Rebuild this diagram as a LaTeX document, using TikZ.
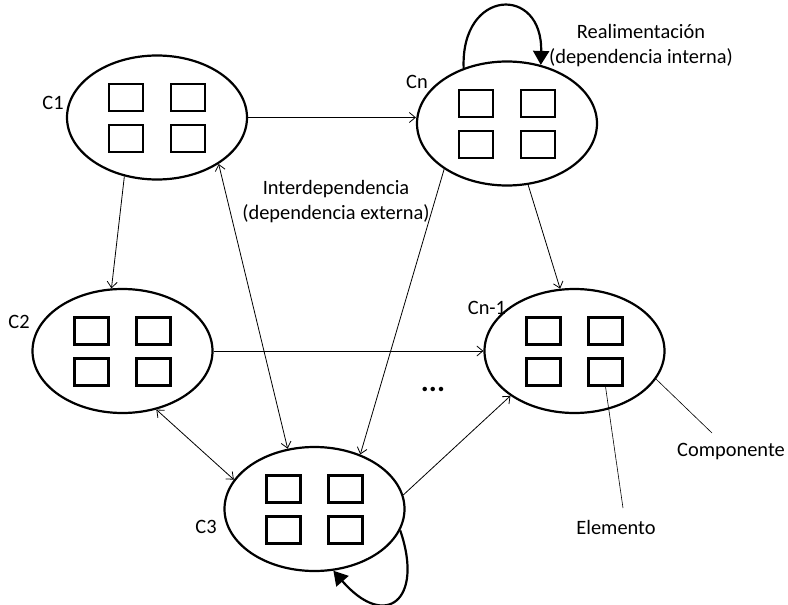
\documentclass[tikz,border=0pt]{standalone}
\usepackage{fontspec}
\setmainfont{Carlito}
\usetikzlibrary{shapes.geometric,arrows.meta}
\begin{document}
\begin{tikzpicture}[x=1pt,y=-1pt,
 comp/.style={ellipse,draw,line width=2.2pt,minimum width=180pt,minimum height=124pt,inner sep=0pt},
 elem/.style={rectangle,draw,line width=2.2pt,minimum width=34pt,minimum height=27pt,inner sep=0pt},
 lbl/.style={font=\fontsize{20.4}{25}\selectfont,inner sep=0pt,align=center},
 dep/.style={line width=0.8pt,-{Straight Barb[length=6pt,width=10pt]}},
 bidep/.style={line width=0.8pt,{Straight Barb[length=6pt,width=10pt]}-{Straight Barb[length=6pt,width=10pt]}},
 fb/.style={line width=2.2pt,-{Triangle[length=14pt,width=16pt]}},
 note/.style={line width=0.6pt}]
\useasboundingbox (0,0) rectangle (788,605);
% components
\node[comp] (c1) at (157,117.5) {};
\node[comp] (cn) at (507,123.5) {};
\node[comp] (c2) at (122.5,351) {};
\node[comp] (c3) at (314.5,509) {};
\node[comp] (cn1) at (574.5,351) {};
% elements
\foreach \c in {c1,cn,c2,c3,cn1} {
  \foreach \dx/\dy/\s in {-31/-20/a,31/-20/b,-31/21/c,31/21/d}
    \node[elem] (\c\s) at ([shift={(\dx,\dy)}]\c.center) {};
}
% labels
\node[lbl] (lc1) at (53,103) {C1};
\node[lbl] (lcn) at (417,82) {Cn};
\node[lbl] (lc2) at (19,322) {C2};
\node[lbl] (lcn1) at (487,308) {Cn-1};
\node[lbl] (lc3) at (206,527) {C3};
% feedback loops
\draw[fb] (cn.128) .. controls +(-3,-80) and +(2,-80) .. (cn.60);
\draw[fb] (c3.-14) .. controls +(24,70) and +(52,60) .. (c3.-73);
% dependencies
\draw[dep] (c1.east) -- (c1.east -| cn.west);
\draw[dep] (c1.241.5) -- (c2.100);
\draw[bidep] (c1.-37) -- (c3.114);
\draw[dep] (cn.216) -- (c3.50);
\draw[dep] (cn.-71) -- (cn1.103);
\draw[dep] (c2.east) -- (cn1.west);
\draw[bidep] (c2.-60) -- (c3.160);
\draw[dep] (c3.9) -- (cn1.215);
% texts
\node[lbl] (inter) at (336,202) {Interdependencia\\(dependencia externa)};
\node[lbl] (realim) at (641,46) {Realimentación\\(dependencia interna)};
\node[lbl,font=\fontsize{30}{30}\selectfont\bfseries] (dots) at (433,389) {...};
\node[lbl] (compt) at (731,452) {Componente};
\node[lbl] (elemt) at (616,527) {Elemento};
\coordinate (compend) at (712,433);
\coordinate (elemend) at (623,508);
\draw[note] (cn1.-19) -- (compend);
\draw[note] (cn1d.south) -- (elemend);
\end{tikzpicture}
\end{document}
